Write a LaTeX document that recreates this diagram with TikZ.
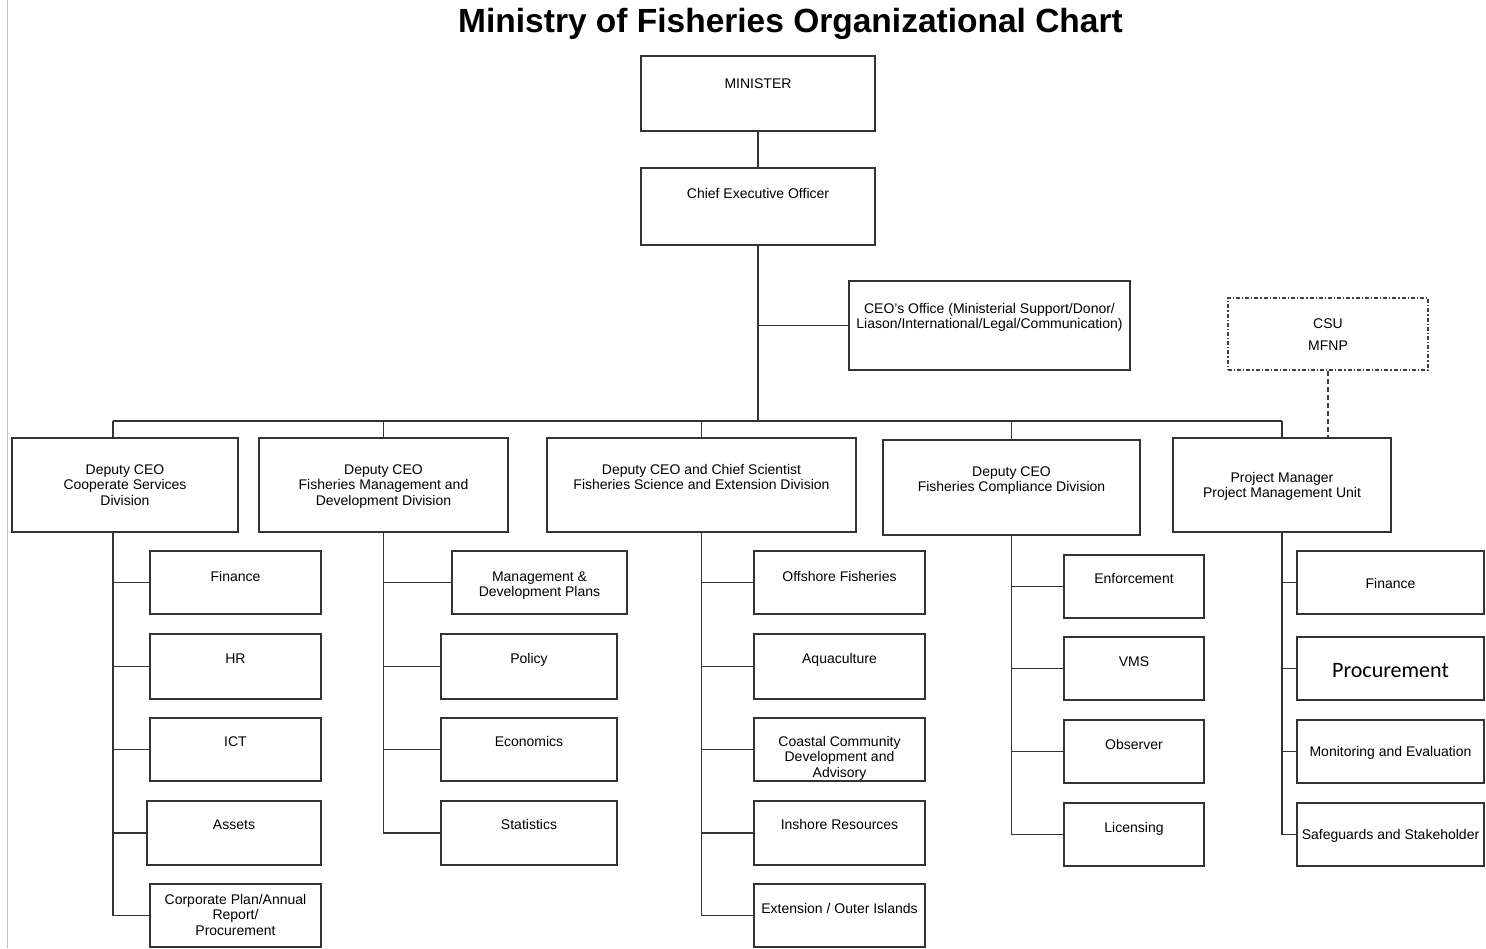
\documentclass[tikz,border=0pt]{standalone}
\usepackage{fontspec}
\setmainfont{Liberation Sans}
\newfontfamily\calib{Carlito}
\begin{document}
\begin{tikzpicture}[x=1pt,y=-1pt,
  box/.style={draw=black!80, line width=1.4pt, rectangle, inner sep=0pt},
  dbox/.style={draw=black!75, line width=1.2pt, rectangle, inner sep=0pt, dash pattern=on 4pt off 2pt on 1.2pt off 2pt},
  lbl/.style={anchor=north, inner sep=0pt, align=center, text=black, font=\fontsize{14}{15.5}\selectfont},
  conn/.style={draw=black!80, line width=1.3pt},
  dconn/.style={draw=black!75, line width=1.2pt, dash pattern=on 5pt off 3pt}]
\useasboundingbox (0,0) rectangle (1486,948);
\newcommand{\orgbox}[8][box]{%
  \pgfmathsetmacro\bcx{(#3+#5)/2}%
  \pgfmathsetmacro\bcy{(#4+#6)/2}%
  \pgfmathsetmacro\bw{#5-#3}%
  \pgfmathsetmacro\bh{#6-#4}%
  \pgfmathsetmacro\bty{#7-5.85}%
  \node[#1, minimum width=\bw pt, minimum height=\bh pt] (#2) at (\bcx,\bcy) {};
  \node[lbl] (#2t) at (\bcx,\bty) {\strut #8};
}
% page edge line
\coordinate (edgeT) at (7,0);
\coordinate (edgeB) at (7,948);
\draw[black!25, line width=0.8pt] (edgeT) -- (edgeB);
% title
\node[anchor=base, inner sep=0pt, font=\fontsize{33.5}{40}\selectfont\bfseries] (title) at (790.5,32) {Ministry of Fisheries Organizational Chart};
% top
\orgbox{min}{641}{56}{875}{131}{83}{MINISTER}
\orgbox{ceo}{641}{168}{875}{245}{193}{Chief Executive Officer}
\orgbox{off}{849}{281}{1130}{370}{308}{CEO's Office (Ministerial Support/Donor/\\Liason/International/Legal/Communication)}
\orgbox[dbox]{csu}{1228}{298}{1428}{370}{323}{CSU\\[6.5pt]MFNP}
% level 2
\orgbox{b1}{12}{438}{238}{532}{469}{Deputy CEO\\Cooperate Services\\Division}
\orgbox{b2}{259}{438}{508}{532}{469}{Deputy CEO\\Fisheries Management and\\Development Division}
\orgbox{b3}{547}{438}{856}{532}{469}{Deputy CEO and Chief Scientist\\Fisheries Science and Extension Division}
\orgbox{b4}{883}{440}{1140}{535}{471}{Deputy CEO\\Fisheries Compliance Division}
\orgbox{b5}{1173}{438}{1391}{532}{477}{Project Manager\\Project Management Unit}
% column 1
\orgbox{c11}{150}{551}{321}{614}{576}{Finance}
\orgbox{c12}{150}{634}{321}{699}{658}{HR}
\orgbox{c13}{150}{718}{321}{781}{741}{ICT}
\orgbox{c14}{147}{801}{321}{865}{824}{Assets}
\orgbox{c15}{150}{884}{321}{947}{899}{Corporate Plan/Annual\\Report/\\Procurement}
% column 2
\orgbox{c21}{452}{551}{627}{614}{576}{Management \&\\Development Plans}
\orgbox{c22}{441}{634}{617}{699}{658}{Policy}
\orgbox{c23}{441}{718}{617}{781}{741}{Economics}
\orgbox{c24}{441}{801}{617}{865}{824}{Statistics}
% column 3
\orgbox{c31}{754}{551}{925}{614}{576}{Offshore Fisheries}
\orgbox{c32}{754}{634}{925}{699}{658}{Aquaculture}
\orgbox{c33}{754}{718}{925}{781}{741}{Coastal Community\\Development and\\Advisory}
\orgbox{c34}{754}{801}{925}{865}{824}{Inshore Resources}
\orgbox{c35}{754}{884}{925}{947}{908}{Extension / Outer Islands}
% column 4
\orgbox{c41}{1064}{555}{1204}{618}{578}{Enforcement}
\orgbox{c42}{1064}{637}{1204}{700}{661}{VMS}
\orgbox{c43}{1064}{720}{1204}{783}{744}{Observer}
\orgbox{c44}{1064}{803}{1204}{866}{827}{Licensing}
% column 5
\orgbox{c51}{1297}{551}{1484}{614}{583}{Finance}
\orgbox{c52}{1297}{637}{1484}{700}{669}{\calib\fontsize{22}{24}\selectfont Procurement}
\orgbox{c53}{1297}{720}{1484}{783}{751}{Monitoring and Evaluation}
\orgbox{c54}{1297}{803}{1484}{866}{834}{Safeguards and Stakeholder}
% connectors top
\coordinate (busL) at (113,421);
\coordinate (busR) at (1282,421);
\coordinate (busC) at (758,421);
\draw[conn] (min.south) -- (ceo.north);
\draw[conn] (ceo.south) -- (busC);
\draw[conn] (ceo.south |- off.west) -- (off.west);
\draw[conn] (busL) -- (busR);
\draw[dconn] (csu.south) -- (csu.south |- b5.north);
\draw[conn] (busL) -- (busL |- b1.north);
\draw[conn] (b2.north |- busL) -- (b2.north);
\draw[conn] (b3.north |- busL) -- (b3.north);
\draw[conn] (b4.north |- busL) -- (b4.north);
\draw[conn] (b5.north |- busL) -- (b5.north);
% column 1
\draw[conn] (busL |- b1.south) -- (busL |- c15.west) -- (c15.west);
\foreach \n in {c11,c12,c13,c14} \draw[conn] (busL |- \n.west) -- (\n.west);
% column 2
\draw[conn] (b2.south) -- (b2.south |- c24.west) -- (c24.west);
\foreach \n in {c21,c22,c23} \draw[conn] (b2.south |- \n.west) -- (\n.west);
% column 3
\draw[conn] (b3.south) -- (b3.south |- c35.west) -- (c35.west);
\foreach \n in {c31,c32,c33,c34} \draw[conn] (b3.south |- \n.west) -- (\n.west);
% column 4
\draw[conn] (b4.south) -- (b4.south |- c44.west) -- (c44.west);
\foreach \n in {c41,c42,c43} \draw[conn] (b4.south |- \n.west) -- (\n.west);
% column 5
\draw[conn] (b5.south) -- (b5.south |- c54.west) -- (c54.west);
\foreach \n in {c51,c52,c53} \draw[conn] (b5.south |- \n.west) -- (\n.west);
\end{tikzpicture}
\end{document}
